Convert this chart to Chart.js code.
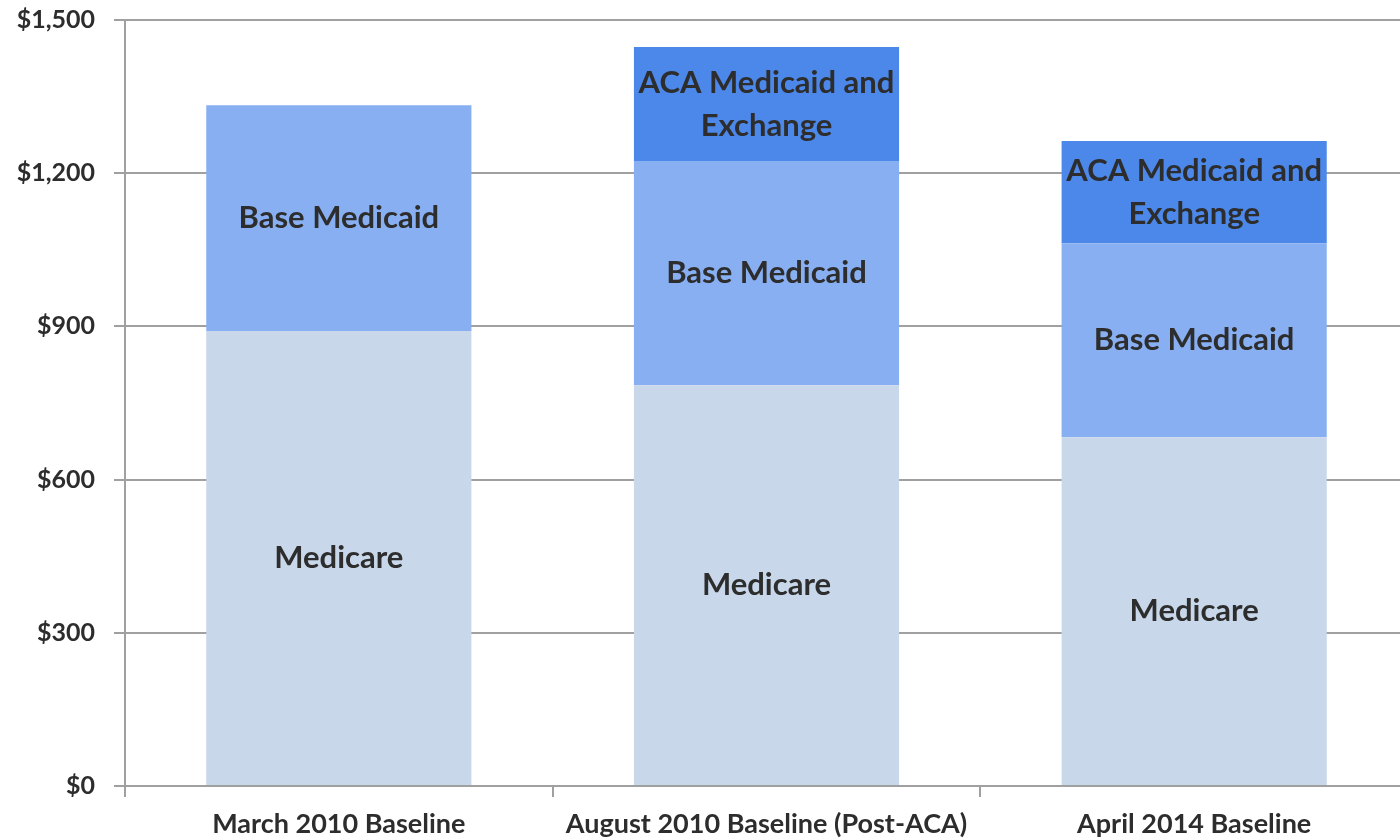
<!DOCTYPE html>
<html>
<head>
<meta charset="utf-8">
<script src="https://cdn.jsdelivr.net/npm/chart.js@4.4.1/dist/chart.umd.min.js"></script>
<style>
  html, body { margin: 0; padding: 0; background: #fff; overflow: hidden; }
  .wrap { width: 1408px; height: 840px; }
</style>
</head>
<body>
<div class="wrap"><canvas id="myChart"></canvas></div>
<script>
const categories = ['March 2010 Baseline', 'August 2010 Baseline (Post-ACA)', 'April 2014 Baseline'];
const medicare = [891, 785, 683];
const baseMedicaid = [442, 439, 380];
const acaExchange = [null, 223, 200];
const yTicks = [0, 300, 600, 900, 1200, 1500];

const FONT = 'Lato, "Open Sans", sans-serif';
const TXT = '#2d2d2d';

// write the series name in the middle of each bar piece
const barLabels = {
    id: 'barLabels',
    afterDatasetsDraw(chart) {
        const ctx = chart.ctx;
        ctx.save();
        ctx.fillStyle = TXT;
        ctx.font = 'bold 31px ' + FONT;
        ctx.textAlign = 'center';
        ctx.textBaseline = 'middle';
        chart.data.datasets.forEach((ds, i) => {
            chart.getDatasetMeta(i).data.forEach((bar, j) => {
                if (ds.data[j] == null) return;
                const mid = (bar.y + bar.base) / 2;
                const lines = ds.inside;
                const lh = 43;
                lines.forEach((t, k) => {
                    ctx.fillText(t, bar.x, mid + (k - (lines.length - 1) / 2) * lh);
                });
            });
        });
        ctx.restore();
    }
};

new Chart(document.getElementById('myChart'), {
    type: 'bar',
    data: {
        labels: categories,
        datasets: [
            { label: 'Medicare', inside: ['Medicare'], data: medicare, backgroundColor: '#C8D7EA' },
            { label: 'Base Medicaid', inside: ['Base Medicaid'], data: baseMedicaid, backgroundColor: '#88AFF2' },
            { label: 'ACA Medicaid and Exchange', inside: ['ACA Medicaid and', 'Exchange'], data: acaExchange, backgroundColor: '#4C88EA' }
        ]
    },
    options: {
        responsive: true,
        maintainAspectRatio: false,
        animation: false,
        layout: { padding: { top: 20, right: 0, bottom: 0, left: 0 } },
        datasets: { bar: { barPercentage: 0.62, categoryPercentage: 1, borderWidth: 0 } },
        plugins: {
            legend: { display: false },
            tooltip: { enabled: false }
        },
        scales: {
            x: {
                stacked: true,
                afterFit: s => { s.height = 54; s.paddingLeft = 0; s.paddingRight = 0; },
                border: { display: true, color: '#A0A0A0', width: 2 },
                grid: { offset: true, drawOnChartArea: false, drawTicks: true, tickLength: 11, color: '#A0A0A0', lineWidth: 2 },
                ticks: { color: TXT, font: { family: FONT, size: 27, weight: 'bold' }, padding: 11, maxRotation: 0 }
            },
            y: {
                stacked: true,
                min: 0,
                max: 1500,
                afterFit: s => { s.width = 125; s.paddingTop = 0; s.paddingBottom = 0; },
                afterBuildTicks: s => { s.ticks = yTicks.map(v => ({ value: v })); },
                border: { display: true, color: '#A0A0A0', width: 2 },
                grid: { color: '#A0A0A0', lineWidth: 2, tickLength: 11, drawTicks: true },
                ticks: {
                    color: TXT,
                    font: { family: FONT, size: 25, weight: 'bold' },
                    padding: 19,
                    callback: v => '$' + v.toLocaleString('en-US')
                }
            }
        }
    },
    plugins: [barLabels]
});
</script>
</body>
</html>
